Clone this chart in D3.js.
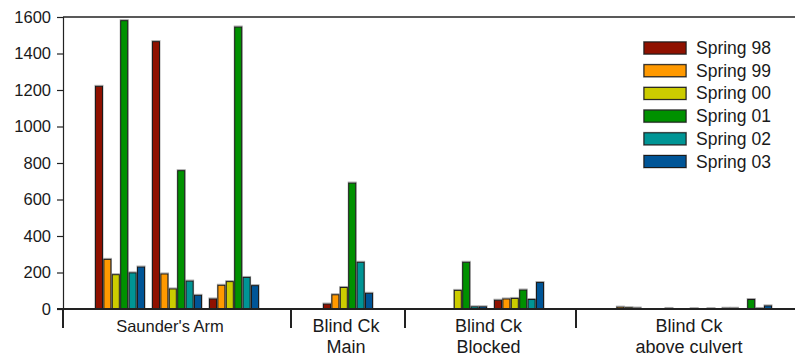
<!DOCTYPE html>
<html>
<head>
<meta charset="utf-8">
<script src="https://cdn.jsdelivr.net/npm/d3@7/dist/d3.min.js"></script>
<style>
  html, body { margin: 0; padding: 0; background: #fff; }
  svg { display: block; font-family: "Liberation Sans", Arial, sans-serif; }
</style>
</head>
<body>
<svg id="chart" width="795" height="356"></svg>
<script>
// Sampling seasons (series) and their colours
const seasons = ["Spring 98", "Spring 99", "Spring 00", "Spring 01", "Spring 02", "Spring 03"];
const seasonColors = ["#8f1100", "#ff9900", "#cccc00", "#009100", "#009595", "#005597"];

// Creek sections along the x axis, and how many sites each one holds
const regions = ["Saunder's Arm", "Blind Ck|Main", "Blind Ck|Blocked", "Blind Ck|above culvert"];
const regionSites = [3, 1, 2, 3];

// Counts per season, one value per site (sites listed left to right)
const spring98 = [1220, 1465, 55, 27, 0, 48, 0, 3, 4];
const spring99 = [272, 192, 130, 78, 0, 55, 10, 0, 4];
const spring00 = [188, 110, 150, 118, 102, 58, 7, 0, 0];
const spring01 = [1580, 758, 1545, 690, 256, 104, 5, 2, 52];
const spring02 = [198, 153, 173, 256, 12, 52, 0, 0, 3];
const spring03 = [230, 75, 128, 86, 12, 145, 0, 2, 17];
const seriesValues = [spring98, spring99, spring00, spring01, spring02, spring03];

const yTicks = [0, 200, 400, 600, 800, 1000, 1200, 1400, 1600];

const svg = d3.select("#chart");
const margin = { left: 63, top: 17, bottom: 309 };

// Each section spans (sites + 1) slot units; sites sit on whole units inside it
const regionWidths = regionSites.map(n => n + 1);
const totalUnits = d3.sum(regionWidths);
const regionStarts = regionWidths.map((w, i) => d3.sum(regionWidths.slice(0, i)));
const sitePos = [];
regionSites.forEach((n, r) => { for (let k = 1; k <= n; k++) sitePos.push(regionStarts[r] + k); });

const x = d3.scaleLinear().domain([0, totalUnits]).range([margin.left, margin.left + totalUnits * 57]);
const y = d3.scaleLinear().domain([0, 1600]).range([margin.bottom, margin.top]);

const unit = x(1) - x(0);
const barStep = unit * 0.1475;
const barW = barStep - 1.4;

// Bars
const bars = [];
seriesValues.forEach((vals, s) => {
  vals.forEach((v, i) => {
    if (v > 0) bars.push({ s, v, cx: x(sitePos[i]) + (s - 2.5) * barStep });
  });
});

const gBars = svg.append("g");
// soft grey rim around each bar
gBars.selectAll("rect.rim").data(bars).join("rect")
  .attr("class", "rim")
  .attr("x", d => d.cx - barW / 2 - 0.5)
  .attr("y", d => y(d.v) - 1)
  .attr("width", barW + 1)
  .attr("height", d => y(0) - y(d.v) + 1)
  .attr("fill", "none")
  .attr("stroke", "#a8a8a8")
  .attr("stroke-width", 1);
gBars.selectAll("rect.bar").data(bars).join("rect")
  .attr("class", "bar")
  .attr("x", d => d.cx - barW / 2)
  .attr("y", d => y(d.v))
  .attr("width", barW)
  .attr("height", d => y(0) - y(d.v))
  .attr("fill", d => seasonColors[d.s])
  .attr("stroke", "#1a1a1a")
  .attr("stroke-width", 1);

// Y axis
const yAxis = d3.axisLeft(y).tickValues(yTicks).tickSize(6).tickPadding(6).tickFormat(d3.format("d"));
const gy = svg.append("g").attr("transform", `translate(${margin.left},0)`).call(yAxis);
gy.select(".domain").attr("stroke", "#222").attr("stroke-width", 1.2);
gy.selectAll(".tick line").attr("stroke", "#222").attr("stroke-width", 1.2);
gy.selectAll(".tick text").attr("font-size", "16.5px").attr("fill", "#1a1a1a")
  .attr("font-family", "'Liberation Sans', Arial, sans-serif");

// Top frame line
svg.append("line")
  .attr("x1", margin.left).attr("x2", 795)
  .attr("y1", margin.top).attr("y2", margin.top)
  .attr("stroke", "#222").attr("stroke-width", 1.5);

// Baseline
svg.append("line")
  .attr("x1", margin.left - 6).attr("x2", x(totalUnits))
  .attr("y1", y(0)).attr("y2", y(0))
  .attr("stroke", "#222").attr("stroke-width", 2);

// Section dividers below the baseline
svg.selectAll("line.div").data(regionStarts).join("line")
  .attr("class", "div")
  .attr("x1", d => x(d)).attr("x2", d => x(d))
  .attr("y1", y(0)).attr("y2", y(0) + 19)
  .attr("stroke", "#222").attr("stroke-width", 2);

// Section labels (single-line label is set slightly smaller and left of centre)
const labelShift = [-7, -2, -2, -1];
regions.forEach((name, r) => {
  const cx = x(regionStarts[r] + regionWidths[r] / 2) + labelShift[r];
  const lines = name.split("|");
  const t = svg.append("text")
    .attr("x", cx).attr("y", 331.5)
    .attr("text-anchor", "middle")
    .attr("font-size", lines.length > 1 ? "18px" : "16.5px")
    .attr("fill", "#1a1a1a");
  lines.forEach((ln, j) => {
    t.append("tspan").attr("x", cx).attr("dy", j === 0 ? 0 : 21.5).text(ln);
  });
});

// Legend
const legend = svg.append("g").attr("transform", "translate(644,42)");
seasons.forEach((name, i) => {
  const row = legend.append("g").attr("transform", `translate(0,${i * 22.7})`);
  row.append("rect")
    .attr("x", -0.5).attr("y", -0.5).attr("width", 43).attr("height", 13)
    .attr("fill", "none").attr("stroke", "#aaa");
  row.append("rect")
    .attr("width", 42).attr("height", 12)
    .attr("fill", seasonColors[i]).attr("stroke", "#1a1a1a").attr("stroke-width", 1);
  row.append("text")
    .attr("x", 52).attr("y", 12)
    .attr("font-size", "17.5px").attr("fill", "#1a1a1a")
    .text(name);
});
</script>
</body>
</html>
